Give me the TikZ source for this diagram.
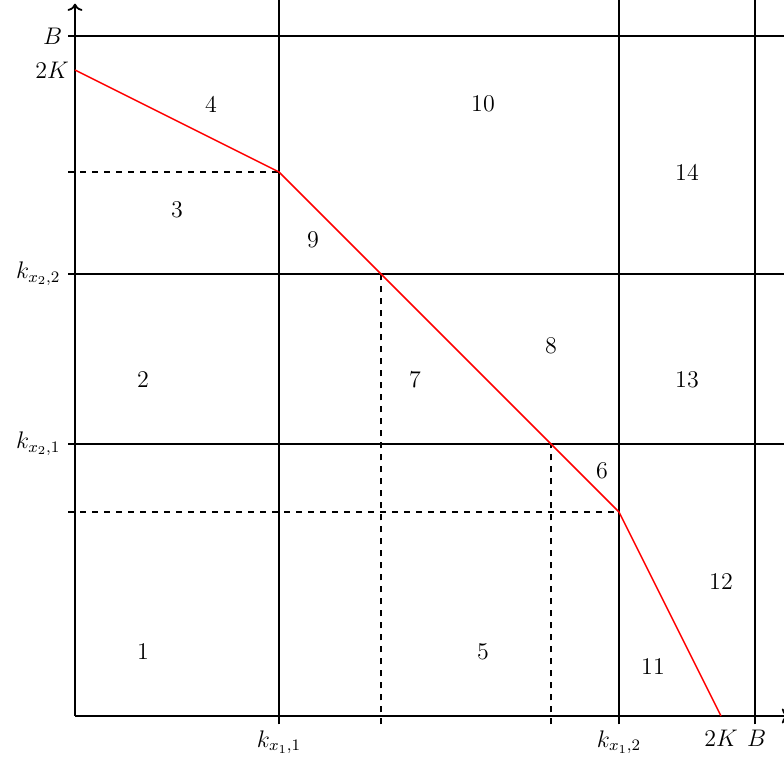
\documentclass[tikz,border=0pt]{standalone}
\usetikzlibrary{arrows.meta}
\begin{document}
\begin{tikzpicture}[x=17pt,y=17pt,
  font=\large,
  gridline/.style={line width=0.9pt,black},
  dashline/.style={line width=0.75pt,dashed},
  lbl/.style={}]
\clip (-2.206,-1.353) rectangle (20.853,21.059);
% axes
\coordinate (O) at (0,0);
\coordinate (xend) at (21,0);
\coordinate (yend) at (0,20.95);
\draw[line width=0.9pt,->] (O) -- (xend);
\draw[line width=0.9pt,->] (O) -- (yend);
% solid grid lines
\draw[gridline] (-0.2,20) -- (21.5,20);
\draw[gridline] (-0.2,13) -- (21.5,13);
\draw[gridline] (-0.2,8) -- (21.5,8);
\draw[gridline] (6,-0.25) -- (6,21.5);
\draw[gridline] (16,-0.25) -- (16,21.5);
\draw[gridline] (20,-0.25) -- (20,21.5);
% dashed lines
\draw[dashline] (-0.2,16) -- (6,16);
\draw[dashline] (-0.2,6) -- (16,6);
\draw[dashline] (9,-0.25) -- (9,13);
\draw[dashline] (14,-0.25) -- (14,8);
% red curve
\coordinate (p0) at (0,19);
\coordinate (p1) at (6,16);
\coordinate (p2) at (9,13);
\coordinate (p3) at (14,8);
\coordinate (p4) at (16,6);
\coordinate (p5) at (19,0);
\draw[red,line width=0.75pt] (p0) -- (p1) -- (p2) -- (p3) -- (p4) -- (p5);
% axis labels
\node[anchor=east,inner sep=2pt] (lB) at (-0.25,20) {$B$};
\node[anchor=east,inner sep=2pt] (l2K) at (-0.05,19) {$2K$};
\node[anchor=east,inner sep=2pt] (lk22) at (-0.3,13) {$k_{x_2,2}$};
\node[anchor=east,inner sep=2pt] (lk21) at (-0.3,8) {$k_{x_2,1}$};
\node[anchor=north,inner sep=2pt] (lk11) at (6,-0.3) {$k_{x_1,1}$};
\node[anchor=north,inner sep=2pt] (lk12) at (16,-0.3) {$k_{x_1,2}$};
\node[anchor=north,inner sep=2pt] (b2K) at (19,-0.3) {$2K$};
\node[anchor=north,inner sep=2pt] (bB) at (20.05,-0.3) {$B$};
% region numbers
\node[lbl] (r1) at (2,1.9) {1};
\node[lbl] (r2) at (2,9.9) {2};
\node[lbl] (r3) at (3,14.9) {3};
\node[lbl] (r4) at (4,18) {4};
\node[lbl] (r5) at (12,1.9) {5};
\node[lbl] (r6) at (15.5,7.2) {6};
\node[lbl] (r7) at (10,9.9) {7};
\node[lbl] (r8) at (14,10.9) {8};
\node[lbl] (r9) at (7,14) {9};
\node[lbl] (r10) at (12,18) {10};
\node[lbl] (r11) at (17,1.45) {11};
\node[lbl] (r12) at (19,3.95) {12};
\node[lbl] (r13) at (18,9.9) {13};
\node[lbl] (r14) at (18,16) {14};
\end{tikzpicture}
\end{document}
